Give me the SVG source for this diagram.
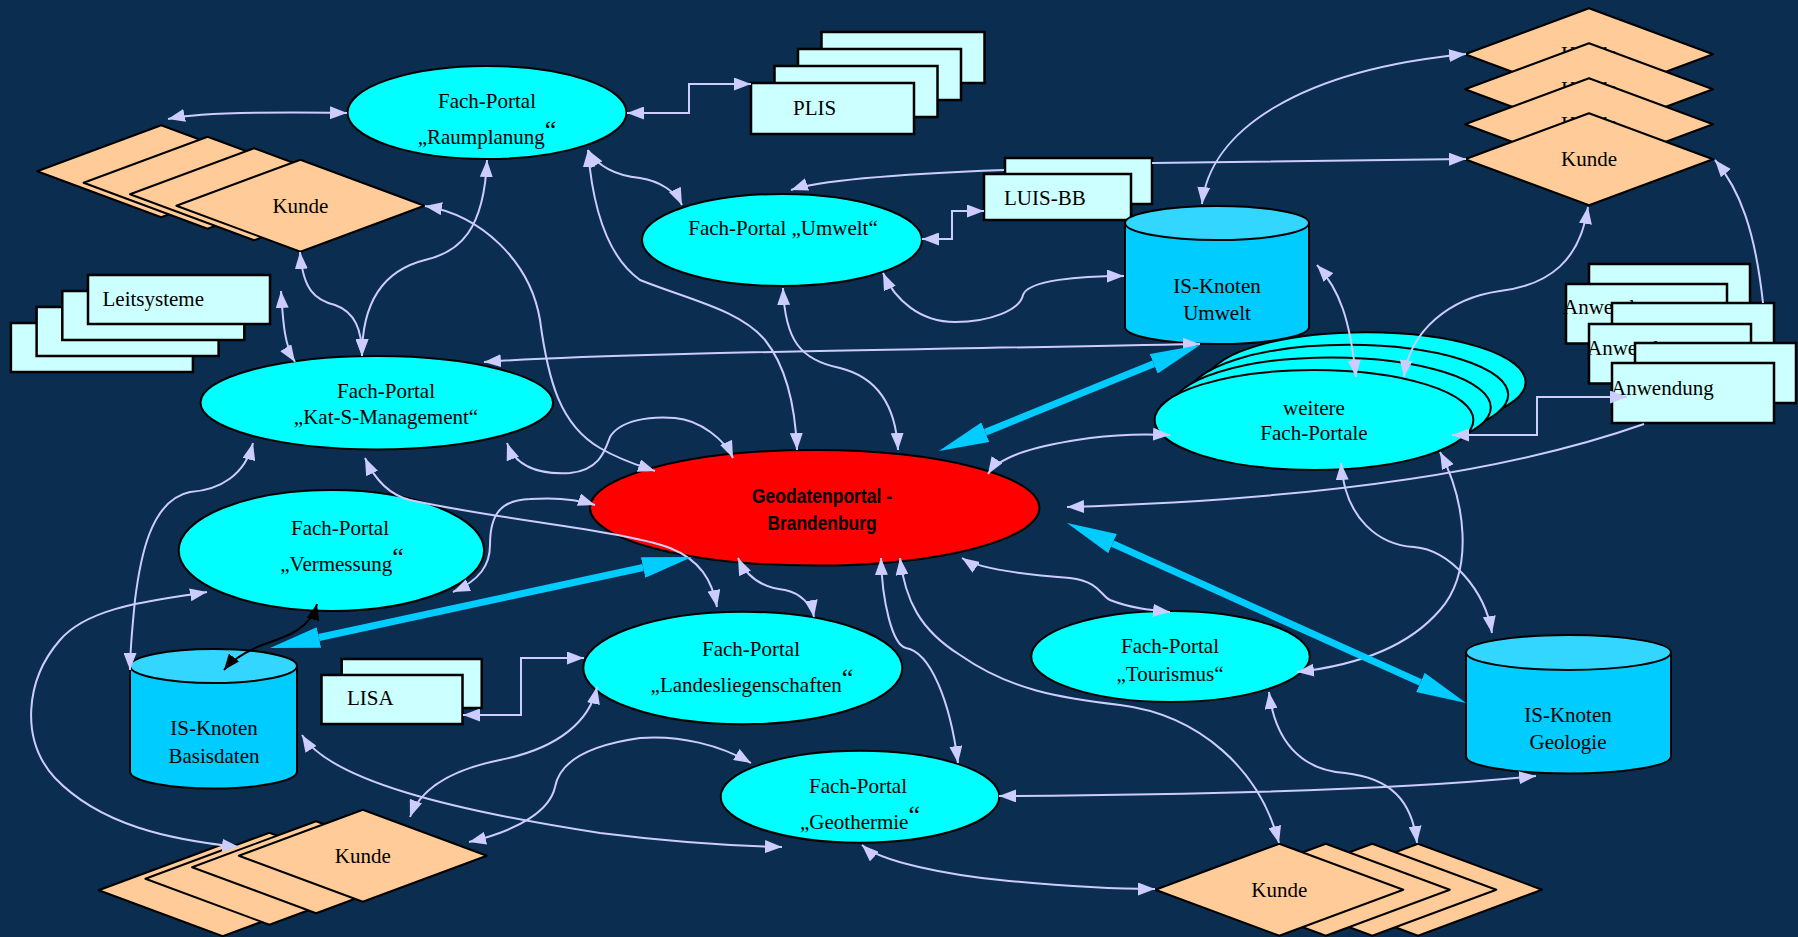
<svg xmlns="http://www.w3.org/2000/svg" width="1798" height="937" viewBox="0 0 1798 937">
<style>
.bg{fill:#0b2d4f}
.el{fill:#00ffff;stroke:#000;stroke-width:2}
.dm{fill:#ffcc99;stroke:#000;stroke-width:2;stroke-linejoin:round}
.bx{fill:#ccffff;stroke:#000;stroke-width:2.5}
.cyl{fill:#00ccff;stroke:#000;stroke-width:2}
.cyt{fill:#33d6ff;stroke:#000;stroke-width:2}
.t{font-family:"Liberation Serif","Times New Roman",serif;font-size:21px;fill:#000}
.m{text-anchor:middle}
.c{fill:none;stroke:#ccccff;stroke-width:2;marker-start:url(#a);marker-end:url(#a)}
.ce{fill:none;stroke:#ccccff;stroke-width:2;marker-end:url(#a)}
.th{fill:none;stroke:#00ccff;stroke-width:7;marker-start:url(#tk);marker-end:url(#tk)}
.bk{fill:none;stroke:#000;stroke-width:2;marker-start:url(#bm);marker-end:url(#bm)}
</style>
<defs>
<marker id="a" viewBox="0 0 17 13" refX="17" refY="6.5" markerWidth="17" markerHeight="13" markerUnits="userSpaceOnUse" orient="auto-start-reverse"><path d="M0,0 L17,6.5 L0,13 z" fill="#ccccff"/></marker>
<marker id="tk" viewBox="0 0 50 21" refX="0" refY="10.5" markerWidth="50" markerHeight="21" markerUnits="userSpaceOnUse" orient="auto-start-reverse"><path d="M0,0 L50,10.5 L0,21 z" fill="#00ccff"/></marker>
<marker id="bm" viewBox="0 0 16 13" refX="16" refY="6.5" markerWidth="16" markerHeight="13" markerUnits="userSpaceOnUse" orient="auto-start-reverse"><path d="M0,0 L16,6.5 L0,13 z" fill="#000"/></marker>
</defs>
<rect class="bg" x="0" y="0" width="1798" height="937"/>

<g id="kunde-tl">
<polygon class="dm" points="37.2,171.2 161.2,125.2 285.2,171.2 161.2,217.2"/>
<polygon class="dm" points="83.6,182.7 207.6,136.7 331.6,182.7 207.6,228.7"/>
<polygon class="dm" points="130,194.2 254,148.2 378,194.2 254,240.2"/>
<polygon class="dm" points="176.4,205.7 300.4,159.7 424.4,205.7 300.4,251.7"/>
<text class="t m" x="300.4" y="213">Kunde</text>
</g>

<g id="raumplanung">
<ellipse class="el" cx="487" cy="112.5" rx="139.5" ry="46.5"/>
<text class="t m" x="487" y="108">Fach-Portal</text>
<text class="t m" x="487" y="144">„Raumplanung<tspan font-size="26" dy="-6">“</tspan></text>
</g>

<g id="plis">
<rect class="bx" x="821.5" y="32" width="163" height="51"/>
<rect class="bx" x="798" y="49" width="163" height="51"/>
<rect class="bx" x="774.5" y="66" width="163" height="51"/>
<rect class="bx" x="751" y="83" width="163" height="51"/>
<text class="t" x="793" y="115">PLIS</text>
</g>

<g id="umwelt">
<ellipse class="el" cx="782" cy="240" rx="140" ry="46"/>
<text class="t m" x="783" y="235">Fach-Portal „Umwelt“</text>
</g>

<g id="luis-bb">
<rect class="bx" x="1005" y="158" width="147" height="46"/>
<rect class="bx" x="984" y="174" width="147" height="46"/>
<text class="t" x="1004" y="205">LUIS-BB</text>
</g>

<g id="is-umwelt">
<path class="cyl" d="M1125,223 V327 A92,17 0 0 0 1309,327 V223 Z"/>
<ellipse class="cyt" cx="1217" cy="223" rx="92" ry="17"/>
<text class="t m" x="1217" y="293">IS-Knoten</text>
<text class="t m" x="1217" y="320">Umwelt</text>
</g>

<g id="kunde-tr">
<polygon class="dm" points="1465,54.3 1589,8.3 1713,54.3 1589,100.3"/>
<text class="t m" x="1589" y="61">Kunde</text>
<polygon class="dm" points="1465,89.3 1589,43.3 1713,89.3 1589,135.3"/>
<text class="t m" x="1589" y="96">Kunde</text>
<polygon class="dm" points="1465,124.3 1589,78.3 1713,124.3 1589,170.3"/>
<text class="t m" x="1589" y="131">Kunde</text>
<polygon class="dm" points="1465,159.3 1589,113.3 1713,159.3 1589,205.3"/>
<text class="t m" x="1589" y="166">Kunde</text>
</g>

<g id="leitsysteme">
<rect class="bx" x="10.9" y="323" width="182" height="49"/>
<rect class="bx" x="36.6" y="307" width="182" height="49"/>
<rect class="bx" x="62.3" y="291" width="182" height="49"/>
<rect class="bx" x="88" y="275" width="182" height="49"/>
<text class="t" x="102.5" y="305.5" font-size="23">Leitsysteme</text>
</g>

<g id="kat-s">
<ellipse class="el" cx="376.8" cy="402.7" rx="176.3" ry="46.7"/>
<text class="t m" x="386" y="398">Fach-Portal</text>
<text class="t m" x="386" y="424">„Kat-S-Management“</text>
</g>

<g id="weitere">
<ellipse class="el" cx="1366.2" cy="382.2" rx="159.4" ry="50"/>
<ellipse class="el" cx="1348.8" cy="394.8" rx="159.4" ry="50"/>
<ellipse class="el" cx="1331.4" cy="407.4" rx="159.4" ry="50"/>
<ellipse class="el" cx="1314" cy="420" rx="159.4" ry="50"/>
<text class="t m" x="1314" y="415">weitere</text>
<text class="t m" x="1314" y="440">Fach-Portale</text>
</g>

<g id="anwendung">
<rect class="bx" x="1589" y="264" width="161" height="59.5"/>
<rect class="bx" x="1566" y="284" width="161" height="59.5"/>
<text class="t" x="1563" y="314">Anwendung</text>
<rect class="bx" x="1612" y="303" width="162" height="60"/>
<rect class="bx" x="1589" y="324" width="162" height="59.5"/>
<text class="t" x="1587" y="355">Anwendung</text>
<rect class="bx" x="1635" y="343" width="161" height="60"/>
<rect class="bx" x="1612" y="363" width="162" height="60"/>
<text class="t" x="1611" y="395">Anwendung</text>
</g>

<g id="vermessung">
<ellipse class="el" cx="331.4" cy="550.5" rx="152.7" ry="60.5"/>
<text class="t m" x="340" y="535">Fach-Portal</text>
<text class="t m" x="342" y="571">„Vermessung<tspan font-size="26" dy="-6">“</tspan></text>
</g>

<g id="geodatenportal">
<ellipse cx="814.7" cy="507.8" rx="224.7" ry="57.8" fill="#ff0000" stroke="#000" stroke-width="2"/>
<text x="822" y="503" text-anchor="middle" font-family="'Liberation Sans',Arial,sans-serif" font-weight="bold" font-size="20" textLength="140" lengthAdjust="spacingAndGlyphs">Geodatenportal -</text>
<text x="822" y="530" text-anchor="middle" font-family="'Liberation Sans',Arial,sans-serif" font-weight="bold" font-size="20" textLength="109" lengthAdjust="spacingAndGlyphs">Brandenburg</text>
</g>

<g id="is-basisdaten">
<path class="cyl" d="M130,666 V771.5 A83.5,17 0 0 0 297,771.5 V666 Z"/>
<ellipse class="cyt" cx="213.5" cy="666" rx="83.5" ry="17"/>
<text class="t m" x="214" y="735">IS-Knoten</text>
<text class="t m" x="214" y="763">Basisdaten</text>
</g>

<g id="lisa">
<rect class="bx" x="341.7" y="659" width="140" height="49"/>
<rect class="bx" x="321.5" y="675" width="141" height="49"/>
<text class="t" x="347" y="705">LISA</text>
</g>

<g id="landesliegenschaften">
<ellipse class="el" cx="742.8" cy="668" rx="159.5" ry="56.3"/>
<text class="t m" x="751" y="656">Fach-Portal</text>
<text class="t m" x="752" y="692">„Landesliegenschaften<tspan font-size="26" dy="-6">“</tspan></text>
</g>

<g id="tourismus">
<ellipse class="el" cx="1170.5" cy="656.5" rx="139.3" ry="45.5"/>
<text class="t m" x="1170" y="653">Fach-Portal</text>
<text class="t m" x="1170" y="681">„Tourismus“</text>
</g>

<g id="is-geologie">
<path class="cyl" d="M1466,652.5 V756.5 A102.5,17 0 0 0 1671,756.5 V652.5 Z"/>
<ellipse class="cyt" cx="1568.5" cy="652.5" rx="102.5" ry="17.5"/>
<text class="t m" x="1568" y="722">IS-Knoten</text>
<text class="t m" x="1568" y="749">Geologie</text>
</g>

<g id="geothermie">
<ellipse class="el" cx="860" cy="796.7" rx="139.3" ry="46"/>
<text class="t m" x="858" y="793">Fach-Portal</text>
<text class="t m" x="860" y="829">„Geothermie<tspan font-size="26" dy="-6">“</tspan></text>
</g>

<g id="kunde-bl">
<polygon class="dm" points="98.7,890.2 222.7,844.2 346.7,890.2 222.7,936.2"/>
<polygon class="dm" points="145.4,878.7 269.4,832.7 393.4,878.7 269.4,924.7"/>
<polygon class="dm" points="192.1,867.2 316.1,821.2 440.1,867.2 316.1,913.2"/>
<polygon class="dm" points="238.8,855.7 362.8,809.7 486.8,855.7 362.8,901.7"/>
<text class="t m" x="362.8" y="863">Kunde</text>
</g>

<g id="kunde-br">
<polygon class="dm" points="1294,889.7 1418,843.7 1542,889.7 1418,935.7"/>
<polygon class="dm" points="1248.3,889.7 1372.3,843.7 1496.3,889.7 1372.3,935.7"/>
<polygon class="dm" points="1201.8,889.7 1325.8,843.7 1449.8,889.7 1325.8,935.7"/>
<polygon class="dm" points="1155.3,889.7 1279.3,843.7 1403.3,889.7 1279.3,935.7"/>
<text class="t m" x="1279.3" y="897">Kunde</text>
</g>

<g id="connectors">
<path class="c" d="M168 119 C200 112 280 112 347 113"/>
<path class="c" d="M627 113 H689 V84 H751"/>
<path class="c" d="M487 160 C484 230 460 252 425 260 C385 270 362 300 362 356"/>
<path class="c" d="M300 252 C303 290 315 300 335 305 C355 312 362 330 362 356"/>
<path class="c" d="M281 291 C283 320 284 345 295 362"/>
<path class="c" d="M425 206 C480 215 530 260 540 320 C548 380 560 425 600 448 C620 460 640 466 655 471"/>
<path class="c" d="M588 150 C600 170 620 176 640 178 C660 181 676 192 682 205"/>
<path class="c" d="M588 150 C592 200 605 255 640 280 C690 300 740 310 765 340 C785 365 795 400 797 450"/>
<path class="c" d="M783 288 C785 340 800 360 840 368 C880 378 896 410 898 450"/>
<path class="c" d="M922 239 H952 V211 H984"/>
<path class="c" d="M883 273 C895 300 920 322 955 322 C990 322 1020 310 1023 295 C1028 280 1080 276 1124 276"/>
<path class="c" d="M484 362 C600 353 900 350 1200 344"/>
<path class="c" d="M791 190 C820 180 900 174 1004 170 M1152 163 L1466 159"/>
<path class="c" d="M1202 204 C1210 130 1300 70 1466 54"/>
<path class="c" d="M1317 265 C1340 290 1350 320 1356 377"/>
<path class="c" d="M1588 207 C1580 260 1550 285 1500 291 C1450 298 1410 330 1404 377"/>
<path class="c" d="M1452 435 H1537 V397 H1627"/>
<path class="ce" d="M1763 303 C1755 230 1740 190 1715 160"/>
<path class="ce" d="M1644 424 C1500 475 1300 500 1067 507"/>
<path class="c" d="M988 474 C1000 455 1040 445 1090 438 C1120 434 1150 434 1170 435"/>
<path class="c" d="M1341 463 C1345 520 1380 545 1414 547 C1450 550 1485 590 1492 633"/>
<path class="c" d="M1440 452 C1465 500 1475 570 1440 610 C1410 645 1360 665 1297 672"/>
<path class="c" d="M962 558 C980 570 1030 575 1070 578 C1100 582 1100 595 1110 600 C1130 608 1150 610 1170 612"/>
<path class="c" d="M738 558 C748 580 765 588 785 590 C800 593 812 605 814 617"/>
<path class="c" d="M881 558 C882 600 892 645 906 648 C930 652 950 700 958 763"/>
<path class="c" d="M900 558 C905 600 920 630 960 655 C1010 690 1060 698 1120 705 C1200 715 1260 770 1279 843"/>
<path class="c" d="M1269 692 C1275 740 1300 770 1345 773 C1390 778 1412 800 1417 843"/>
<path class="c" d="M999 796 C1200 795 1400 790 1536 776"/>
<path class="c" d="M862 845 C880 862 950 875 1000 880 C1060 886 1120 889 1155 889"/>
<path class="c" d="M302 735 C330 780 450 810 600 833 C680 843 740 846 782 847"/>
<path class="c" d="M410 817 C420 790 450 770 500 760 C560 748 590 720 597 687"/>
<path class="c" d="M469 842 C520 830 550 810 555 787 C560 760 590 745 640 738 C680 735 720 745 751 763"/>
<path class="c" d="M207 592 C160 600 90 605 60 640 C25 680 20 740 55 778 C100 825 170 840 239 847"/>
<path class="c" d="M253 443 C245 475 220 490 190 492 C150 500 140 560 135 600 C132 630 130 650 130 670"/>
<path class="c" d="M365 458 C375 480 390 495 410 500 C500 520 620 530 670 548 C700 560 712 580 717 607"/>
<path class="c" d="M507 443 C515 465 535 475 570 473 C600 470 605 450 610 437 C620 420 650 416 675 418 C700 420 725 440 733 458"/>
<path class="c" d="M453 592 C480 580 490 565 490 545 C490 515 500 500 530 499 C560 497 580 500 595 505"/>
<path class="c" d="M463 715 H521 V658 H584"/>
<path class="bk" d="M317 604 C310 630 285 637 262 645 C245 652 232 660 224 670"/>
<path class="th" d="M985.3 432.2 L1153.7 363.8"/>
<path class="th" d="M318.9 637.5 L643.1 567.5"/>
<path class="th" d="M1112.6 543.6 L1420.4 682.4"/>
</g>
</svg>
